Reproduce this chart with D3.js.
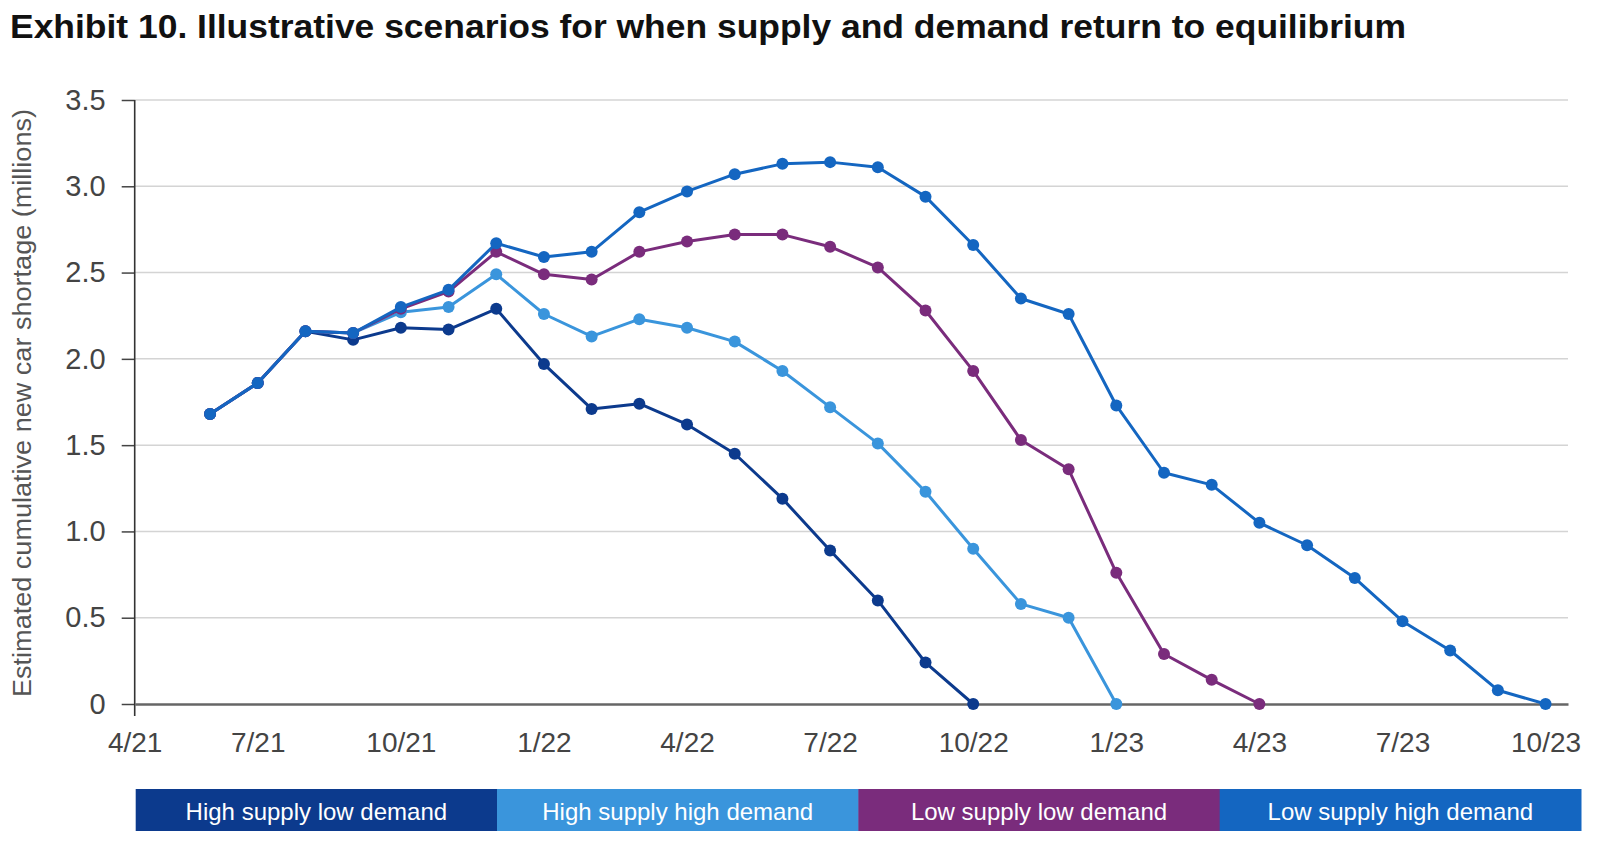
<!DOCTYPE html>
<html>
<head>
<meta charset="utf-8">
<script src="https://cdn.jsdelivr.net/npm/d3@7"></script>
<style>
  html, body { margin: 0; padding: 0; background: #fff; }
  svg { display: block; }
</style>
</head>
<body>
<svg id="chart" width="1600" height="851"></svg>
<script>
// ---------- DATA ----------
const months = ["4/21","5/21","6/21","7/21","8/21","9/21","10/21","11/21","12/21",
  "1/22","2/22","3/22","4/22","5/22","6/22","7/22","8/22","9/22","10/22","11/22","12/22",
  "1/23","2/23","3/23","4/23","5/23","6/23","7/23","8/23","9/23","10/23"];
const startIndex = 2; // first data point is 6/21

const highSupplyLowDemand = [1.68,1.86,2.16,2.11,2.18,2.17,2.29,1.97,1.71,1.74,1.62,1.45,1.19,0.89,0.60,0.24,0];
const highSupplyHighDemand = [1.68,1.86,2.16,2.15,2.27,2.30,2.49,2.26,2.13,2.23,2.18,2.10,1.93,1.72,1.51,1.23,0.90,0.58,0.50,0];
const lowSupplyLowDemand = [1.68,1.86,2.16,2.15,2.29,2.39,2.62,2.49,2.46,2.62,2.68,2.72,2.72,2.65,2.53,2.28,1.93,1.53,1.36,0.76,0.29,0.14,0];
const lowSupplyHighDemand = [1.68,1.86,2.16,2.15,2.30,2.40,2.67,2.59,2.62,2.85,2.97,3.07,3.13,3.14,3.11,2.94,2.66,2.35,2.26,1.73,1.34,1.27,1.05,0.92,0.73,0.48,0.31,0.08,0];

const seriesNames = ["High supply low demand","High supply high demand","Low supply low demand","Low supply high demand"];
const seriesColors = ["#0c3a8d","#3a95dc","#7a2c7c","#1466c1"];
const seriesValues = [highSupplyLowDemand, highSupplyHighDemand, lowSupplyLowDemand, lowSupplyHighDemand];

const yTicks = [0,0.5,1,1.5,2,2.5,3,3.5];
const xTickIndices = [3,6,9,12,15,18,21,24,27,30];

const titleText = "Exhibit 10. Illustrative scenarios for when supply and demand return to equilibrium";
const yLabelText = "Estimated cumulative new car shortage (millions)";

// ---------- LAYOUT ----------
const svg = d3.select("#chart");
const plotLeft = 134.7, plotRight = 1568, plotTop = 100, plotBottom = 704;
const xDomainStart = 0.42, xDomainEnd = 30.47;

const x = d3.scaleLinear().domain([xDomainStart, xDomainEnd]).range([plotLeft, plotRight]);
const y = d3.scaleLinear().domain([0, 3.5]).range([plotBottom, plotTop]);

// Title
svg.append("text")
  .attr("x", 10).attr("y", 38)
  .attr("font-family", "'Liberation Sans', Arial, sans-serif")
  .attr("font-weight", "bold")
  .attr("font-size", 33)
  .attr("fill", "#111")
  .attr("textLength", 1396)
  .attr("lengthAdjust", "spacingAndGlyphs")
  .text(titleText);

// Gridlines
svg.append("g")
  .selectAll("line")
  .data(yTicks.filter(d => d > 0))
  .join("line")
  .attr("x1", plotLeft).attr("x2", plotRight)
  .attr("y1", d => y(d)).attr("y2", d => y(d))
  .attr("stroke", "#d4d4d4").attr("stroke-width", 1.5);

// Y axis
const yAxis = d3.axisLeft(y).tickValues(yTicks)
  .tickFormat(d => d === 0 ? "0" : d3.format(".1f")(d))
  .tickSize(13).tickPadding(16);
const gy = svg.append("g").attr("transform", `translate(${plotLeft},0)`).call(yAxis);
gy.select(".domain").remove();
gy.selectAll(".tick line").attr("stroke", "#444").attr("stroke-width", 1.5);
gy.selectAll(".tick text")
  .attr("font-family", "'Liberation Sans', Arial, sans-serif")
  .attr("font-size", 29).attr("fill", "#444");
svg.append("line")
  .attr("x1", plotLeft).attr("x2", plotLeft)
  .attr("y1", y(3.5)).attr("y2", plotBottom + 12)
  .attr("stroke", "#333").attr("stroke-width", 1.6);

// X axis
const xAxis = d3.axisBottom(x).tickValues([xDomainStart].concat(xTickIndices))
  .tickFormat(d => months[Math.floor(d)])
  .tickSize(0).tickPadding(28);
const gx = svg.append("g").attr("transform", `translate(0,${plotBottom})`).call(xAxis);
gx.select(".domain").attr("stroke", "#666").attr("stroke-width", 2.5);
gx.selectAll(".tick text")
  .attr("font-family", "'Liberation Sans Narrow', 'Liberation Sans', Arial, sans-serif")
  .attr("font-size", 28).attr("fill", "#444");

// Y label
svg.append("text")
  .attr("transform", `translate(31,403) rotate(-90)`)
  .attr("text-anchor", "middle")
  .attr("font-family", "'Liberation Sans', Arial, sans-serif")
  .attr("font-size", 25)
  .attr("fill", "#555")
  .attr("textLength", 588)
  .attr("lengthAdjust", "spacingAndGlyphs")
  .text(yLabelText);

// Lines and markers
const line = d3.line().x((d, i) => x(startIndex + i)).y(d => y(d));
seriesValues.forEach((vals, si) => {
  const g = svg.append("g");
  g.append("path").datum(vals)
    .attr("d", line)
    .attr("fill", "none")
    .attr("stroke", seriesColors[si])
    .attr("stroke-width", 3)
    .attr("stroke-linejoin", "round");
  g.selectAll("circle").data(vals).join("circle")
    .attr("cx", (d, i) => x(startIndex + i))
    .attr("cy", d => y(d))
    .attr("r", 6)
    .attr("fill", seriesColors[si]);
});

// Legend bar
const legendX = d3.scaleBand().domain(seriesNames).range([135.7, 1581]).paddingInner(0);
const lg = svg.append("g");
lg.selectAll("rect").data(seriesNames).join("rect")
  .attr("x", d => legendX(d)).attr("y", 789)
  .attr("width", legendX.bandwidth() + 0.5).attr("height", 42)
  .attr("fill", (d, i) => seriesColors[i]);
lg.selectAll("text").data(seriesNames).join("text")
  .attr("x", d => legendX(d) + legendX.bandwidth() / 2)
  .attr("y", 820)
  .attr("text-anchor", "middle")
  .attr("font-family", "'Liberation Sans', Arial, sans-serif")
  .attr("font-size", 24)
  .attr("fill", "#fff")
  .text(d => d);
</script>
</body>
</html>
